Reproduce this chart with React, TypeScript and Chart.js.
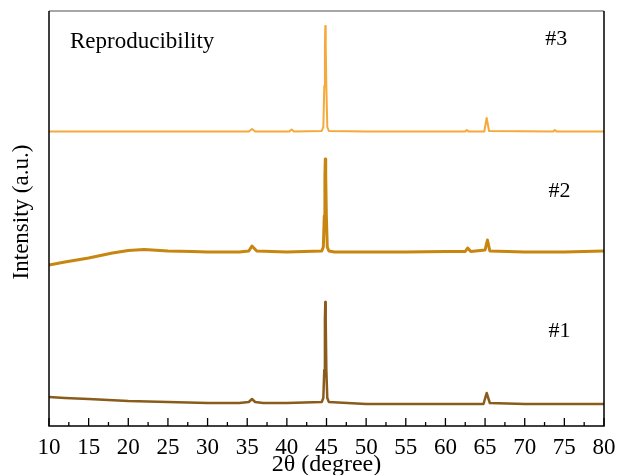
import React, { useEffect, useRef } from "react";
import { Chart, registerables } from "chart.js";

Chart.register(...registerables);

// 2θ positions (degree) and intensities (a.u.)
const x1 = [10, 12, 15, 20, 25, 30, 34, 35.2, 35.6, 36, 37, 40, 44.4, 44.6, 44.72, 44.8, 44.85, 44.9, 44.98, 45.1, 45.3, 50, 55, 60, 64.8, 65.2, 65.6, 70, 75, 80];
const y1 = [29, 28, 27, 25, 24, 23, 23, 24, 27, 24, 23, 23, 24, 28, 56, 106, 124, 106, 56, 28, 24, 22, 22, 22, 22, 33, 23, 22, 22, 22];

const x2 = [10, 12, 15, 18, 20, 22, 25, 28, 30, 34, 35.2, 35.6, 36.2, 40, 44.4, 44.6, 44.72, 44.8, 44.85, 44.9, 44.98, 45.1, 45.3, 46, 50, 55, 60, 62.5, 62.8, 63.2, 65.0, 65.3, 65.6, 70, 75, 80];
const y2 = [161, 164, 168, 173, 175.5, 176.5, 175, 174.5, 174, 174, 175, 180, 175, 174, 175, 179, 210, 250, 267, 250, 210, 179, 175, 174, 174, 174, 174.5, 174.5, 178, 174.5, 176, 186, 175, 174, 174, 175];

const x3 = [10, 20, 30, 35.2, 35.6, 36, 40.3, 40.6, 40.9, 44.4, 44.6, 44.72, 44.8, 44.85, 44.9, 44.98, 45.1, 45.3, 50, 60, 62.5, 62.7, 62.9, 64.9, 65.2, 65.5, 73.6, 73.8, 74, 80];
const y3 = [294.5, 294.5, 294.5, 294.5, 297, 294.5, 294.5, 296.5, 294.5, 295, 299, 340, 380, 400, 380, 340, 299, 295, 294.5, 294.5, 294.5, 296, 294.5, 294.5, 308, 295, 294.5, 296, 294.5, 294.5];

const xTicks = [10, 15, 20, 25, 30, 35, 40, 45, 50, 55, 60, 65, 70, 75, 80];
const minorTicks = [12.5, 17.5, 22.5, 27.5, 32.5, 37.5, 42.5, 47.5, 52.5, 57.5, 62.5, 67.5, 72.5, 77.5];

const seriesLabels = ["#1", "#2", "#3"];
const seriesColors = ["#8a5c1c", "#c7860f", "#f5a93a"];
const labelPos = [
  { x: 73.0, y: 89 },
  { x: 73.0, y: 229 },
  { x: 72.6, y: 381 },
];

const FONT = "'Liberation Serif', 'Times New Roman', serif";

const toPts = (xs: number[], ys: number[]) => xs.map((x, i) => ({ x, y: ys[i] }));

const decorPlugin = {
  id: "decor",
  afterDraw(chart: any) {
    const { ctx, chartArea } = chart;
    const xs = chart.scales.x;
    const ys = chart.scales.y;
    const { left, right, top, bottom } = chartArea;
    ctx.save();
    // frame
    ctx.lineWidth = 1.5;
    ctx.strokeStyle = "#888888";
    ctx.beginPath();
    ctx.moveTo(left, top);
    ctx.lineTo(right, top);
    ctx.stroke();
    ctx.strokeStyle = "#000000";
    ctx.beginPath();
    ctx.moveTo(right, top);
    ctx.lineTo(right, bottom);
    ctx.lineTo(left, bottom);
    ctx.lineTo(left, top);
    ctx.stroke();
    // inward ticks
    ctx.lineWidth = 1.3;
    xTicks.forEach((t) => {
      const px = xs.getPixelForValue(t);
      ctx.beginPath();
      ctx.moveTo(px, bottom);
      ctx.lineTo(px, bottom - 8);
      ctx.stroke();
    });
    minorTicks.forEach((t) => {
      const px = xs.getPixelForValue(t);
      ctx.beginPath();
      ctx.moveTo(px, bottom);
      ctx.lineTo(px, bottom - 4);
      ctx.stroke();
    });
    // texts
    ctx.fillStyle = "#000";
    ctx.font = `23px ${FONT}`;
    ctx.textAlign = "left";
    ctx.textBaseline = "alphabetic";
    ctx.fillText("Reproducibility", left + 21, 48);
    ctx.font = `22px ${FONT}`;
    seriesLabels.forEach((s, i) => {
      const p = labelPos[i];
      ctx.fillText(s, xs.getPixelForValue(p.x), ys.getPixelForValue(p.y));
    });
    // axis titles
    ctx.textAlign = "center";
    ctx.textBaseline = "middle";
    ctx.font = `24px ${FONT}`;
    ctx.fillText("2θ (degree)", (left + right) / 2, 465);
    ctx.font = `23px ${FONT}`;
    ctx.translate(22, 212);
    ctx.rotate(-Math.PI / 2);
    ctx.fillText("Intensity (a.u.)", 0, 0);
    ctx.restore();
  },
};

export default function App() {
  const ref = useRef<HTMLCanvasElement>(null);
  useEffect(() => {
    if (!ref.current) return;
    const chart = new Chart(ref.current, {
      type: "line",
      data: {
        datasets: [
          { label: "#1", data: toPts(x1, y1), borderColor: seriesColors[0], borderWidth: 2.5 },
          { label: "#2", data: toPts(x2, y2), borderColor: seriesColors[1], borderWidth: 3 },
          { label: "#3", data: toPts(x3, y3), borderColor: seriesColors[2], borderWidth: 2 },
        ].map((d) => ({ ...d, pointRadius: 0, tension: 0, fill: false, borderJoinStyle: "round" as const })),
      },
      options: {
        animation: false,
        responsive: false,
        layout: { padding: { left: 49, right: 17, top: 11, bottom: 0 } },
        plugins: { legend: { display: false }, tooltip: { enabled: false } },
        scales: {
          x: {
            type: "linear",
            min: 10,
            max: 80,
            afterFit: (s: any) => {
              s.height = 49;
            },
            afterBuildTicks: (s: any) => {
              s.ticks = xTicks.map((v) => ({ value: v }));
            },
            grid: { display: false },
            border: { display: false },
            ticks: {
              font: { family: FONT, size: 23 },
              color: "#000",
              padding: 0,
              maxRotation: 0,
              autoSkip: false,
            },
          },
          y: {
            type: "linear",
            min: 0,
            max: 415,
            display: false,
          },
        },
      },
      plugins: [decorPlugin],
    });
    return () => chart.destroy();
  }, []);
  return (
    <div style={{ position: "absolute", left: 0, top: 0, width: 621, height: 475, background: "#fff" }}>
      <canvas ref={ref} width={621} height={475} />
    </div>
  );
}
